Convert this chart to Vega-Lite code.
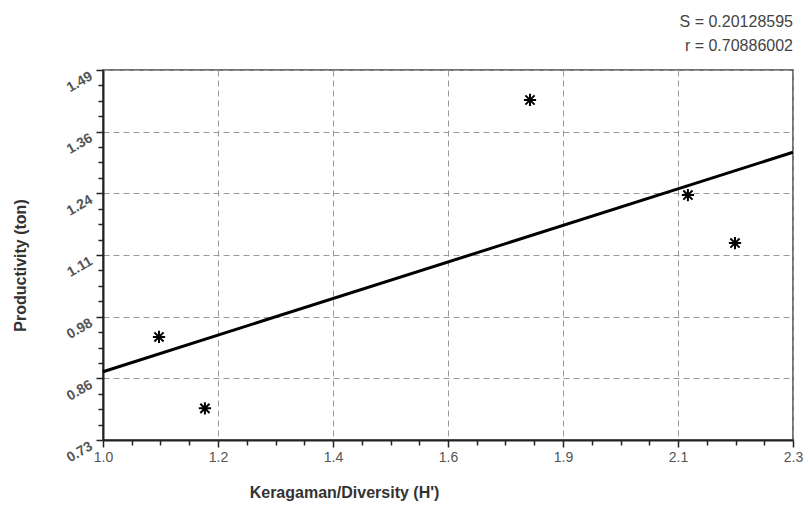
{
  "$schema": "https://vega.github.io/schema/vega-lite/v6.json",
  "width": 690,
  "height": 370,
  "autosize": "none",
  "padding": {"left": 103, "top": 70, "right": 13, "bottom": 82},
  "background": "white",
  "title": {
    "text": ["S = 0.20128595", "r = 0.70886002"],
    "anchor": "end",
    "frame": "group",
    "fontSize": 16,
    "fontWeight": "normal",
    "font": "Liberation Sans, Arial, sans-serif",
    "color": "#444",
    "lineHeight": 24,
    "offset": 15
  },
  "datasets": {
    "fit": [
      {"diversity": 1.0, "productivity": 0.8703},
      {"diversity": 2.3, "productivity": 1.321}
    ],
    "obs": [
      {"diversity": 1.1055, "productivity": 0.9416},
      {"diversity": 1.192, "productivity": 0.795},
      {"diversity": 1.8045, "productivity": 1.4284},
      {"diversity": 2.102, "productivity": 1.2332},
      {"diversity": 2.1907, "productivity": 1.1346}
    ]
  },
  "encoding": {
    "x": {
      "field": "diversity",
      "type": "quantitative",
      "scale": {"domain": [1.0, 2.3], "nice": false, "zero": false},
      "axis": {
        "title": "Keragaman/Diversity (H')",
        "titleFont": "Liberation Sans, Arial, sans-serif",
        "titleFontSize": 16,
        "titleFontWeight": "bold",
        "titleColor": "#333",
        "titleX": 241,
        "titleY": 52,
        "titleAlign": "center",
        "titleBaseline": "middle",
        "values": [1.0, 1.054167, 1.108333, 1.1625, 1.216667, 1.270833, 1.325, 1.379167, 1.433333, 1.4875, 1.541667, 1.595833, 1.65, 1.704167, 1.758333, 1.8125, 1.866667, 1.920833, 1.975, 2.029167, 2.083333, 2.1375, 2.191667, 2.245833, 2.3],
        "labelExpr": "abs((datum.value-1)/0.2166667 - round((datum.value-1)/0.2166667)) < 0.05 ? format(datum.value - 0.0001, '.1f') : ''",
        "labelOverlap": false,
        "labelFont": "Liberation Sans, Arial, sans-serif",
        "labelFontSize": 14,
        "labelColor": "#555",
        "labelPadding": 3,
        "labelFlush": false,
        "tickSize": {"condition": {"test": "abs((datum.value-1)/0.2166667 - round((datum.value-1)/0.2166667)) < 0.05", "value": 7}, "value": 5},
        "tickColor": "#222",
        "tickWidth": 1.5,
        "domainColor": "#222",
        "domainWidth": 2,
        "grid": true,
        "gridColor": "#999",
        "gridDash": [6, 4],
        "gridWidth": 1,
        "gridOpacity": {"condition": {"test": "abs((datum.value-1)/0.2166667 - round((datum.value-1)/0.2166667)) < 0.05", "value": 1}, "value": 0}
      }
    },
    "y": {
      "field": "productivity",
      "type": "quantitative",
      "scale": {"domain": [0.73, 1.49], "nice": false, "zero": false},
      "axis": {
        "title": "Productivity (ton)",
        "titleFont": "Liberation Sans, Arial, sans-serif",
        "titleFontSize": 16,
        "titleFontWeight": "bold",
        "titleColor": "#333",
        "titleAngle": -90,
        "titleX": -83,
        "titleY": 195,
        "titleAlign": "center",
        "titleBaseline": "middle",
        "values": [0.73, 0.761667, 0.793333, 0.825, 0.856667, 0.888333, 0.92, 0.951667, 0.983333, 1.015, 1.046667, 1.078333, 1.11, 1.141667, 1.173333, 1.205, 1.236667, 1.268333, 1.3, 1.331667, 1.363333, 1.395, 1.426667, 1.458333, 1.49],
        "labelExpr": "abs((datum.value-0.73)/0.1266667 - round((datum.value-0.73)/0.1266667)) < 0.05 ? format(datum.value, '.2f') : ''",
        "labelOverlap": false,
        "labelFont": "Liberation Sans, Arial, sans-serif",
        "labelFontSize": 14,
        "labelFontWeight": "bold",
        "labelColor": "#555",
        "labelAngle": -30,
        "labelAlign": "right",
        "labelBaseline": "middle",
        "labelPadding": 5,
        "labelOffset": 5,
        "labelFlush": false,
        "tickSize": {"condition": {"test": "abs((datum.value-0.73)/0.1266667 - round((datum.value-0.73)/0.1266667)) < 0.05", "value": 7}, "value": 5},
        "tickColor": "#222",
        "tickWidth": 1.5,
        "domainColor": "#222",
        "domainWidth": 2,
        "grid": true,
        "gridColor": "#999",
        "gridDash": [6, 4],
        "gridWidth": 1,
        "gridOpacity": {"condition": {"test": "abs((datum.value-0.73)/0.1266667 - round((datum.value-0.73)/0.1266667)) < 0.05", "value": 1}, "value": 0}
      }
    }
  },
  "layer": [
    {
      "data": {"name": "fit"},
      "mark": {"type": "line", "color": "black", "strokeWidth": 3}
    },
    {
      "data": {"name": "obs"},
      "mark": {
        "type": "point",
        "shape": "M0,-1L0,1M-1,0L1,0M-0.75,-0.75L0.75,0.75M-0.75,0.75L0.75,-0.75",
        "filled": false,
        "stroke": "black",
        "strokeWidth": 2,
        "size": 150,
        "opacity": 1
      }
    }
  ],
  "config": {
    "view": {"stroke": "#444", "strokeWidth": 1.5},
    "font": "Liberation Sans, Arial, sans-serif"
  }
}
